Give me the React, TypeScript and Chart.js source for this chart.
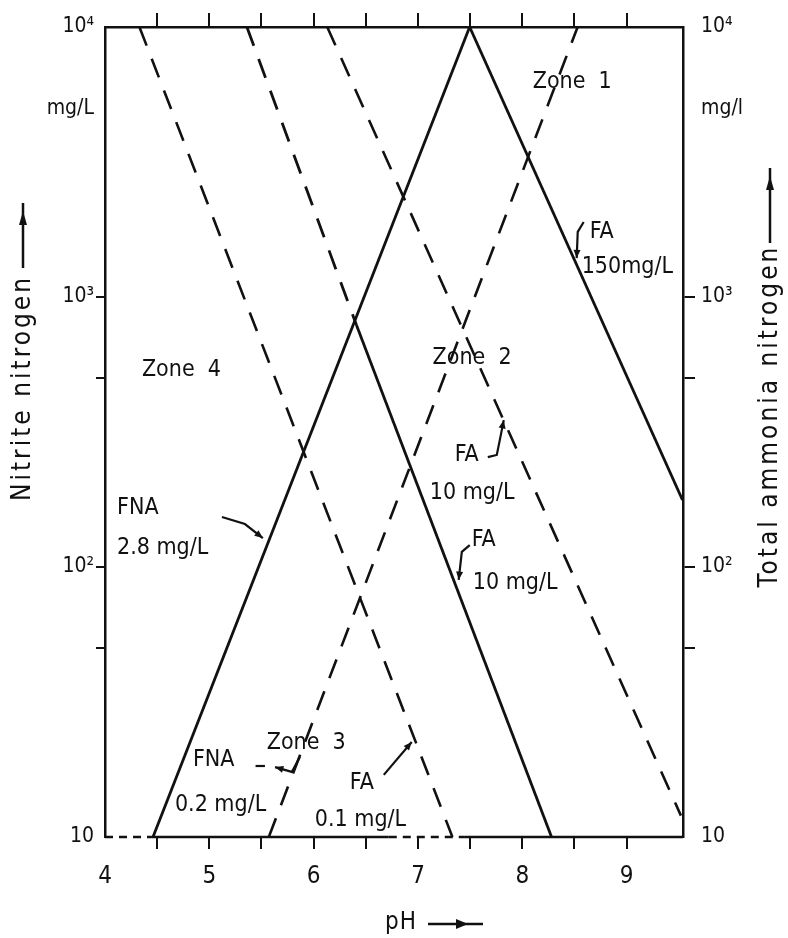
import { useEffect, useRef } from "react";
import { Chart, registerables } from "chart.js";

Chart.register(...registerables);

// ---------- axes ----------
const PH_MIN = 4;
const PH_MAX = 9.54;
const PH_TICKS = [4, 4.5, 5, 5.5, 6, 6.5, 7, 7.5, 8, 8.5, 9];
const PH_LABELS = ["4", "", "5", "", "6", "", "7", "", "8", "", "9"];
const PH_TOP_TICKS = [4.5, 5, 5.5, 6, 6.5, 7, 7.5, 8, 8.5, 9];
const N_MIN = 10;
const N_MAX = 10000;
const N_TICKS = [10, 50, 100, 500, 1000, 5000, 10000];
const LEFT_LABELS = ["10", "", "10²", "", "10³", "mg/L", "10⁴"];
const RIGHT_LABELS = ["10", "", "10²", "", "10³", "mg/l", "10⁴"];
const MARKED_N = [50, 100, 500, 1000];

// ---------- series (pH, mg/L) ----------
const FNA_28_PH = [4.46, 7.495];
const FNA_28_N = [10, 10000];
const FA_150_PH = [7.495, 9.535];
const FA_150_N = [10000, 177];
const FA_10_LOW_PH = [5.36, 6.41, 8.28];
const FA_10_LOW_N = [10000, 787, 10];
const FA_01_PH = [4.33, 7.33];
const FA_01_N = [10000, 10];
const FA_10_UP_PH = [6.13, 9.52];
const FA_10_UP_N = [10000, 12];
const FNA_02_PH = [5.57, 8.53];
const FNA_02_N = [10, 10000];

// ---------- annotation texts ----------
const LABEL_TEXT = [
  "Zone  1", "Zone  2", "Zone  3", "Zone  4",
  "FNA", "2.8 mg/L",
  "FA", "150mg/L",
  "FA", "10 mg/L",
  "FA", "10 mg/L",
  "FNA", "0.2 mg/L",
  "FA", "0.1 mg/L",
];
const LABEL_PH = [8.10, 7.14, 5.55, 4.354, 4.115, 4.115, 8.646, 8.569, 7.353, 7.113, 7.515, 7.525, 4.843, 4.67, 6.347, 6.011];
const LABEL_LG = [3.796, 2.774, 1.348, 2.73, 2.219, 2.07, 3.24, 3.111, 2.415, 2.274, 2.10, 1.941, 1.285, 1.119, 1.20, 1.063];

const ARROW_PH = [
  [5.121, 5.341, 5.513],
  [8.588, 8.531, 8.521],
  [7.669, 7.755, 7.784, 7.822],
  [7.496, 7.42, 7.39],
  [5.868, 5.79, 5.63],
  [6.672, 6.94],
];
const ARROW_LG = [
  [2.185, 2.159, 2.107],
  [3.278, 3.241, 3.144],
  [2.407, 2.415, 2.47, 2.544],
  [2.081, 2.056, 1.952],
  [1.296, 1.241, 1.259],
  [1.23, 1.352],
];

const BOTTOM_DASHED = [[4, 4.45], [6.72, 7.45]];
const BOTTOM_SOLID = [[4.45, 6.72], [7.45, PH_MAX]];

const FONT = "'DejaVu Sans Condensed', 'DejaVu Sans', sans-serif";
const INK = "#111";
const DASH = [20, 14];

const pts = (xs: number[], ys: number[]) => xs.map((x, i) => ({ x, y: ys[i] }));

const annotate = {
  id: "annotate",
  afterDatasetsDraw(chart: any) {
    const { ctx, chartArea, scales } = chart;
    const xs = scales.x;
    const ys = scales.y;
    const px = (ph: number) => xs.getPixelForValue(ph);
    const py = (lg: number) => ys.getPixelForValue(Math.pow(10, lg));
    ctx.save();
    ctx.strokeStyle = INK;
    ctx.fillStyle = INK;

    // bottom frame
    ctx.lineWidth = 2.5;
    BOTTOM_SOLID.forEach(([a, b]) => {
      ctx.setLineDash([]);
      ctx.beginPath();
      ctx.moveTo(px(a), chartArea.bottom);
      ctx.lineTo(px(b), chartArea.bottom);
      ctx.stroke();
    });
    BOTTOM_DASHED.forEach(([a, b]) => {
      ctx.setLineDash([8, 6]);
      ctx.beginPath();
      ctx.moveTo(px(a), chartArea.bottom);
      ctx.lineTo(px(b), chartArea.bottom);
      ctx.stroke();
    });
    ctx.setLineDash([]);

    // labels
    ctx.font = `23px ${FONT}`;
    ctx.textBaseline = "middle";
    ctx.textAlign = "left";
    LABEL_TEXT.forEach((t, i) => {
      ctx.fillText(t, px(LABEL_PH[i]), py(LABEL_LG[i]));
    });

    // arrows
    ctx.lineWidth = 2.2;
    ARROW_PH.forEach((phs, i) => {
      const lgs = ARROW_LG[i];
      const P = phs.map((p, k) => [px(p), py(lgs[k])]);
      ctx.beginPath();
      ctx.moveTo(P[0][0], P[0][1]);
      for (let k = 1; k < P.length; k++) ctx.lineTo(P[k][0], P[k][1]);
      ctx.stroke();
      const [x1, y1] = P[P.length - 2];
      const [x2, y2] = P[P.length - 1];
      const a = Math.atan2(y2 - y1, x2 - x1);
      const L = 9;
      ctx.beginPath();
      ctx.moveTo(x2, y2);
      ctx.lineTo(x2 - L * Math.cos(a - 0.4), y2 - L * Math.sin(a - 0.4));
      ctx.lineTo(x2 - L * Math.cos(a + 0.4), y2 - L * Math.sin(a + 0.4));
      ctx.closePath();
      ctx.fill();
    });
    // small dash before FNA 0.2 arrow
    ctx.beginPath();
    ctx.moveTo(px(4.843 + 0.6), py(1.263));
    ctx.lineTo(px(4.843 + 0.69), py(1.263));
    ctx.stroke();

    ctx.restore();
  },
  afterDraw(chart: any) {
    const { ctx } = chart;
    ctx.save();
    ctx.fillStyle = INK;
    ctx.strokeStyle = INK;
    ctx.font = `26px ${FONT}`;
    ctx.textBaseline = "middle";
    ctx.textAlign = "center";
    try { ctx.letterSpacing = "3px"; } catch (e) {}

    const vArrow = (x: number, y0: number, y1: number) => {
      ctx.lineWidth = 2.5;
      ctx.beginPath();
      ctx.moveTo(x, y0);
      ctx.lineTo(x, y1);
      ctx.stroke();
      ctx.beginPath();
      ctx.moveTo(x, y1 + 8);
      ctx.lineTo(x - 4, y1 + 22);
      ctx.lineTo(x + 4, y1 + 22);
      ctx.closePath();
      ctx.fill();
    };

    // left title
    ctx.save();
    ctx.translate(23, 388);
    ctx.rotate(-Math.PI / 2);
    ctx.fillText("Nitrite nitrogen", 0, 0);
    ctx.restore();
    vArrow(23, 268, 203);

    // right title
    ctx.save();
    ctx.translate(770, 416);
    ctx.rotate(-Math.PI / 2);
    ctx.fillText("Total ammonia nitrogen", 0, 0);
    ctx.restore();
    vArrow(770, 243, 168);

    // x title
    try { ctx.letterSpacing = "1px"; } catch (e) {}
    ctx.font = `24px ${FONT}`;
    ctx.textAlign = "left";
    ctx.fillText("pH", 385, 923);
    ctx.lineWidth = 2.5;
    ctx.beginPath();
    ctx.moveTo(428, 924);
    ctx.lineTo(483, 924);
    ctx.stroke();
    ctx.beginPath();
    ctx.moveTo(468, 924);
    ctx.lineTo(456, 919);
    ctx.lineTo(456, 929);
    ctx.closePath();
    ctx.fill();
    ctx.restore();
  },
};

export default function App() {
  const ref = useRef<HTMLCanvasElement | null>(null);

  useEffect(() => {
    if (!ref.current) return;
    const solid = { borderColor: INK, borderWidth: 2.8, pointRadius: 0, fill: false, tension: 0 };
    const dashed = { ...solid, borderWidth: 2.6, borderDash: DASH };

    const chart = new Chart(ref.current, {
      type: "line",
      data: {
        datasets: [
          { label: "FNA 2.8 mg/L", data: pts(FNA_28_PH, FNA_28_N), ...solid },
          { label: "FA 150 mg/L", data: pts(FA_150_PH, FA_150_N), ...solid },
          {
            label: "FA 10 mg/L (lower)",
            data: pts(FA_10_LOW_PH, FA_10_LOW_N),
            ...solid,
            segment: { borderDash: (c: any) => (c.p0DataIndex === 0 ? DASH : []) },
          },
          { label: "FA 0.1 mg/L", data: pts(FA_01_PH, FA_01_N), ...dashed },
          { label: "FA 10 mg/L (upper)", data: pts(FA_10_UP_PH, FA_10_UP_N), ...dashed },
          { label: "FNA 0.2 mg/L", data: pts(FNA_02_PH, FNA_02_N), ...dashed },
        ] as any,
      },
      options: {
        responsive: false,
        animation: false,
        devicePixelRatio: 1,
        layout: { padding: 0 },
        plugins: { legend: { display: false }, tooltip: { enabled: false } },
        scales: {
          x: {
            type: "linear",
            position: "bottom",
            min: PH_MIN,
            max: PH_MAX,
            afterBuildTicks: (s: any) => { s.ticks = PH_TICKS.map((v) => ({ value: v })); },
            afterFit: (s: any) => { s.height = 101; },
            ticks: {
              autoSkip: false,
              maxRotation: 0,
              padding: 13,
              color: INK,
              font: { family: FONT, size: 24 },
              callback: (_v: any, i: number) => PH_LABELS[i],
            },
            grid: {
              drawOnChartArea: false,
              drawTicks: true,
              tickLength: 12,
              lineWidth: 2,
              color: (c: any) => (c.tick && c.tick.value === PH_MIN ? "rgba(0,0,0,0)" : INK),
            },
            border: { display: false },
          },
          xTop: {
            type: "linear",
            position: "top",
            min: PH_MIN,
            max: PH_MAX,
            afterBuildTicks: (s: any) => { s.ticks = PH_TOP_TICKS.map((v) => ({ value: v })); },
            afterFit: (s: any) => { s.height = 27; },
            ticks: { display: false },
            grid: { drawOnChartArea: false, drawTicks: true, tickLength: 14, lineWidth: 2, color: INK },
            border: { display: true, color: INK, width: 2.5 },
          },
          y: {
            type: "logarithmic",
            position: "left",
            min: N_MIN,
            max: N_MAX,
            afterBuildTicks: (s: any) => { s.ticks = N_TICKS.map((v) => ({ value: v })); },
            afterFit: (s: any) => { s.width = 105; },
            ticks: {
              autoSkip: false,
              padding: 2,
              color: INK,
              font: { family: FONT, size: 21 },
              callback: (_v: any, i: number) => LEFT_LABELS[i],
            },
            grid: {
              drawOnChartArea: false,
              drawTicks: true,
              tickLength: 9,
              lineWidth: 2,
              color: (c: any) => (c.tick && MARKED_N.includes(c.tick.value) ? INK : "rgba(0,0,0,0)"),
            },
            border: { display: true, color: INK, width: 2.5 },
          },
          y2: {
            type: "logarithmic",
            position: "right",
            min: N_MIN,
            max: N_MAX,
            afterBuildTicks: (s: any) => { s.ticks = N_TICKS.map((v) => ({ value: v })); },
            afterFit: (s: any) => { s.width = 105; },
            ticks: {
              autoSkip: false,
              padding: 6,
              color: INK,
              font: { family: FONT, size: 21 },
              callback: (_v: any, i: number) => RIGHT_LABELS[i],
            },
            grid: {
              drawOnChartArea: false,
              drawTicks: true,
              tickLength: 12,
              lineWidth: 2,
              color: (c: any) => (c.tick && MARKED_N.includes(c.tick.value) ? INK : "rgba(0,0,0,0)"),
            },
            border: { display: true, color: INK, width: 2.5 },
          },
        },
      } as any,
      plugins: [annotate],
    });
    return () => chart.destroy();
  }, []);

  return (
    <div style={{ position: "absolute", left: 0, top: 0, width: 788, height: 938, background: "#fff" }}>
      <canvas ref={ref} width={788} height={938} />
    </div>
  );
}
